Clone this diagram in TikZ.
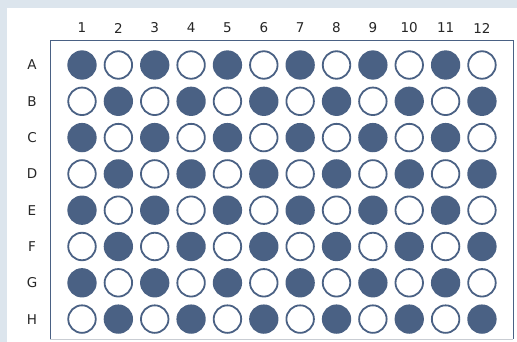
\documentclass[tikz,border=0pt]{standalone}
\usepackage{fontspec}
\setmainfont{DejaVu Sans}

\definecolor{plateblue}{HTML}{4A6184}
\definecolor{panelbg}{HTML}{DCE5ED}
\definecolor{rimgrey}{HTML}{C9CDD3}

\tikzset{
  well/.style={circle, draw=plateblue, line width=1.8pt, minimum size=27.5pt, inner sep=0pt},
  wellfull/.style={well, fill=plateblue},
  wellopen/.style={well, fill=white},
  platelabel/.style={font=\fontsize{13.5}{15}\selectfont, text=black!85, inner sep=0pt}
}

\begin{document}
\begin{tikzpicture}[x=1pt, y=-1pt]

% ---------- background and white panel ----------
\fill[panelbg] (0,0) rectangle (517,342);
\fill[white] (7,8) rectangle (517,342);
\useasboundingbox (0,0) rectangle (517,342);

% ---------- plate frame ----------
\coordinate (plateSW) at (50,339);
\coordinate (plateNW) at (50,41);
\coordinate (plateNE) at (513,41);
\coordinate (plateSE) at (513,339);
\draw[plateblue, line width=1pt] (plateSW) -- (plateNW) -- (plateNE) -- (plateSE);
\draw[rimgrey, line width=1pt] (plateSW) -- (plateSE);

% ---------- column numbers ----------
\foreach \c in {1,...,12}
  \node[platelabel] (col\c) at ({82+36.36*(\c-1)},28) {\c};

% ---------- row letters and wells ----------
\foreach \r/\rowname in {1/A,2/B,3/C,4/D,5/E,6/F,7/G,8/H} {
  \node[platelabel] (row\rowname) at (32,{65+36.3*(\r-1)}) {\rowname};
  \foreach \c in {1,...,12} {
    \pgfmathtruncatemacro\parity{mod(\r+\c,2)}
    \ifnum\parity=0
      \node[wellfull] (\rowname\c) at ({82+36.36*(\c-1)},{65+36.3*(\r-1)}) {};
    \else
      \node[wellopen] (\rowname\c) at ({82+36.36*(\c-1)},{65+36.3*(\r-1)}) {};
    \fi
  }
}

\end{tikzpicture}
\end{document}
